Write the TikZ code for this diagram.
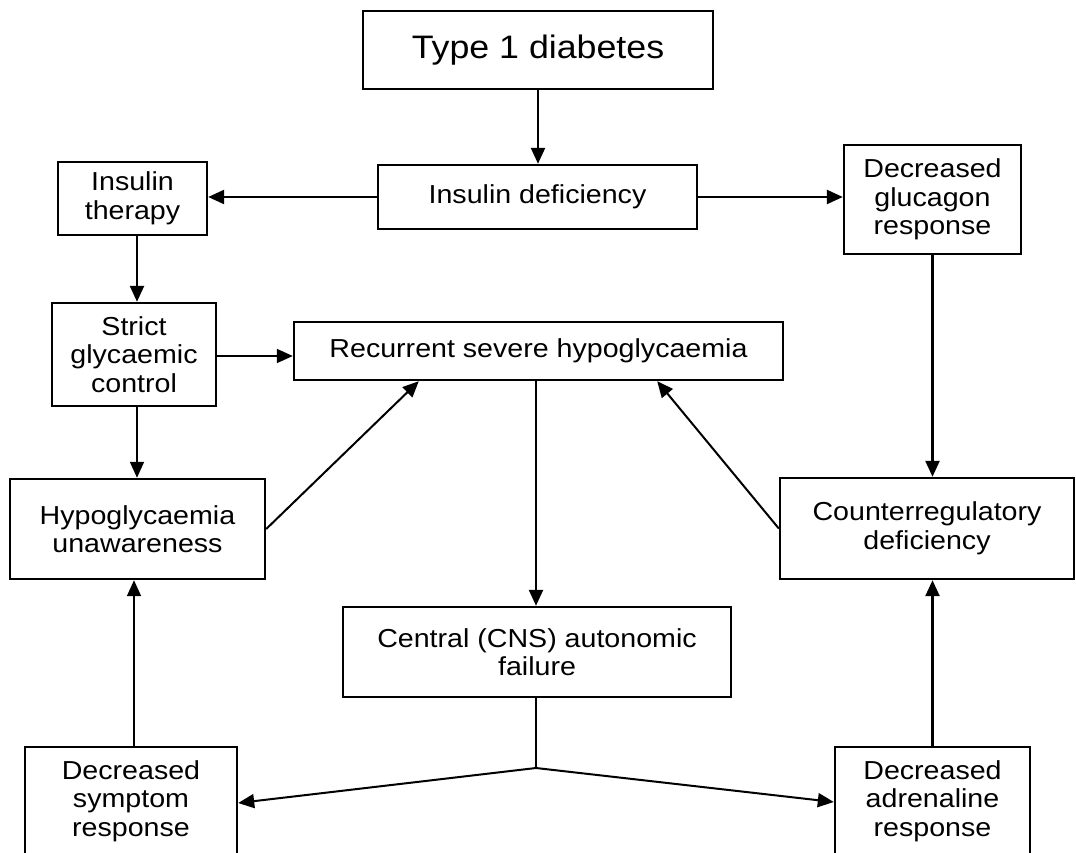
\documentclass[tikz,border=0pt]{standalone}
\usepackage{fontspec}
\setmainfont{Liberation Sans}[FakeStretch=1.1]
\usetikzlibrary{arrows.meta,calc}
\begin{document}
\begin{tikzpicture}[x=1pt,y=-1pt,
  box/.style={draw=black,line width=2.4pt,rectangle,align=center,inner sep=0pt,
    font=\fontsize{26}{28.5}\selectfont},
  tip/.style={-{Triangle[length=16pt,width=14pt]}},
  arr/.style={line width=2.4pt,tip},
  thinarr/.style={line width=1.7pt,tip},
  ln/.style={line width=2pt}]
\useasboundingbox (0,0) rectangle (1076,853);
\fill[white] (0,0) rectangle (1076,853);
\node[box,minimum width=350pt,minimum height=78pt,font=\fontsize{32.5}{36}\selectfont] (t1) at (538,50) {Type 1 diabetes};
\node[box,minimum width=319pt,minimum height=64pt] (id) at (537.5,197) {Insulin deficiency};
\node[box,minimum width=149pt,minimum height=73pt] (it) at (132.5,198.5) {Insulin\\therapy};
\node[box,minimum width=177pt,minimum height=109pt] (gl) at (932.5,199.5) {Decreased\\glucagon\\response};
\node[box,minimum width=164pt,minimum height=103pt] (sg) at (134,354.5) {Strict\\glycaemic\\control};
\node[box,minimum width=489pt,minimum height=58pt] (rsh) at (538.5,351) {Recurrent severe hypoglycaemia};
\node[box,minimum width=255pt,minimum height=100pt] (hu) at (137.5,529) {Hypoglycaemia\\unawareness};
\node[box,minimum width=294pt,minimum height=101pt] (cr) at (927,528.5) {Counterregulatory\\deficiency};
\node[box,minimum width=388pt,minimum height=90pt] (cns) at (537,652) {Central (CNS) autonomic\\failure};
\node[box,minimum width=212pt,minimum height=108pt] (dsr) at (131,801) {Decreased\\symptom\\response};
\node[box,minimum width=195pt,minimum height=108pt] (dar) at (932.5,801) {Decreased\\adrenaline\\response};
\coordinate (br) at (536,768);
% connectors
\draw[arr] (t1.south) -- (t1.south |- id.north);
\draw[arr] (id.west) -- (id.west -| it.east);
\draw[arr] (id.east) -- (id.east -| gl.west);
\draw[arr] ([xshift=4.5pt]it.south) -- ([xshift=4.5pt]it.south |- sg.north);
\draw[thinarr] ([yshift=-1.5pt]sg.east) -- ([yshift=-1.5pt]sg.east -| rsh.west);
\draw[thinarr] ([xshift=3pt]sg.south) -- ([xshift=3pt]sg.south |- hu.north);
\draw[ln,tip] (hu.east) -- ([xshift=126pt]rsh.south west);
\draw[ln,tip] (cr.west) -- ([xshift=-127pt]rsh.south east);
\draw[arr] ([xshift=-2.5pt]rsh.south) -- ([xshift=-2.5pt]rsh.south |- cns.north);
\draw[arr] (gl.south) -- (gl.south |- cr.north);
\draw[ln] ([xshift=-1pt]cns.south) -- (br);
\draw[ln,tip] (br) -- ([yshift=-2pt]dsr.east);
\draw[ln,tip] (br) -- ([yshift=-1pt]dar.west);
\draw[thinarr] ([xshift=3pt]dsr.north) -- ([xshift=3pt]dsr.north |- hu.south);
\draw[arr] (dar.north) -- (dar.north |- cr.south);
\end{tikzpicture}
\end{document}
